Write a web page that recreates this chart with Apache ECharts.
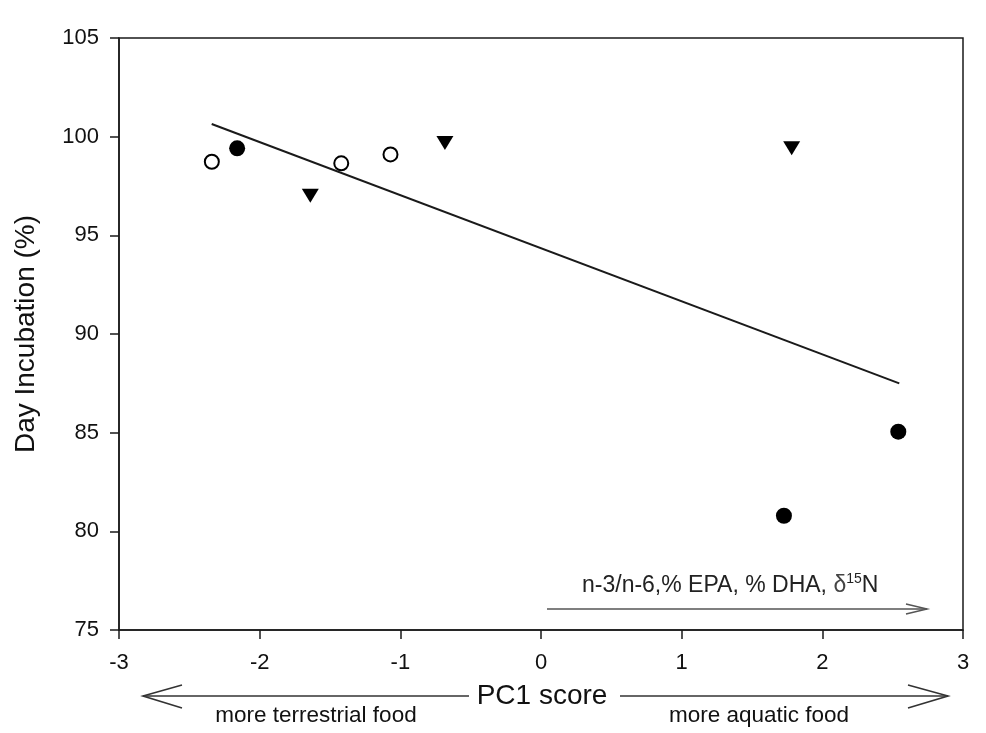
<!DOCTYPE html>
<html>
<head>
<meta charset="utf-8">
<script src="https://cdn.jsdelivr.net/npm/echarts@6/dist/echarts.min.js"></script>
<style>
html,body{margin:0;padding:0;background:#fff;}
#c{width:986px;height:733px;}
</style>
</head>
<body>
<div id="c"></div>
<script>
// Data
var openCircleX = [-2.34, -1.42, -1.07];
var openCircleY = [98.73, 98.65, 99.1];
var filledCircleX = [-2.16, 1.727, 2.54];
var filledCircleY = [99.41, 80.79, 85.05];
var triangleX = [-1.64, -0.683, 1.782];
var triangleY = [97.0, 99.68, 99.41];
var fitX = [-2.341, 2.547];
var fitY = [100.64, 87.50];
var xTicks = [-3, -2, -1, 0, 1, 2, 3];
var yTicks = [75, 80, 85, 90, 95, 100, 105];

function pairs(xs, ys) { return xs.map(function (x, i) { return [x, ys[i]]; }); }

var chart = echarts.init(document.getElementById('c'));
var FONT = 'Liberation Sans, Arial, sans-serif';
var axisCol = '#1a1a1a';

var option = {
  backgroundColor: '#fff',
  animation: false,
  grid: {
    left: 119, right: 23, top: 38, bottom: 103, containLabel: false, outerBoundsMode: 'none',
    show: true, borderColor: axisCol, borderWidth: 1.5, backgroundColor: 'transparent'
  },
  xAxis: {
    type: 'value', min: xTicks[0], max: xTicks[xTicks.length - 1], interval: 1,
    axisLine: { show: true, onZero: false, lineStyle: { color: axisCol, width: 1.5 } },
    axisTick: { show: true, length: 9, lineStyle: { color: axisCol, width: 1.5 } },
    axisLabel: { color: '#111', fontFamily: FONT, fontSize: 22, margin: 22 },
    splitLine: { show: false }
  },
  yAxis: {
    type: 'value', min: yTicks[0], max: yTicks[yTicks.length - 1], interval: 5,
    axisLine: { show: true, onZero: false, lineStyle: { color: axisCol, width: 1.5 } },
    axisTick: { show: true, length: 9, lineStyle: { color: axisCol, width: 1.5 } },
    axisLabel: { color: '#111', fontFamily: FONT, fontSize: 22, margin: 20 },
    splitLine: { show: false },
    name: 'Day Incubation (%)', nameLocation: 'middle', nameGap: 79, nameRotate: 90,
    nameTextStyle: { color: '#111', fontFamily: FONT, fontSize: 28 }
  },
  series: [
    {
      type: 'line', data: pairs(fitX, fitY), symbol: 'none',
      lineStyle: { color: '#1a1a1a', width: 2 }, z: 2
    },
    {
      type: 'scatter', data: pairs(openCircleX, openCircleY), symbol: 'circle', symbolSize: 14,
      itemStyle: { color: '#fff', borderColor: '#000', borderWidth: 2, opacity: 1 }, z: 3
    },
    {
      type: 'scatter', data: pairs(filledCircleX, filledCircleY), symbol: 'circle', symbolSize: 16,
      itemStyle: { color: '#000', opacity: 1 }, z: 3
    },
    {
      type: 'scatter', data: pairs(triangleX, triangleY), symbol: 'triangle', symbolRotate: 180, symbolSize: [17, 14],
      itemStyle: { color: '#000', opacity: 1 }, z: 3
    }
  ],
  graphic: [
    // in-plot annotation arrow
    { type: 'line', shape: { x1: 547, y1: 609, x2: 927, y2: 609 }, style: { stroke: '#555', lineWidth: 1.5 } },
    { type: 'polyline', shape: { points: [[906, 604], [927, 609], [906, 614]] }, style: { stroke: '#555', lineWidth: 1.5, fill: null } },
    {
      type: 'text', left: 582, top: 571,
      style: {
        text: '{a|n-3/n-6,% EPA, % DHA, }{d|δ}{s|15}{a|N}',
        rich: {
          a: { fontFamily: FONT, fontSize: 23, lineHeight: 30, fill: '#222' },
          d: { fontFamily: FONT, fontSize: 23, lineHeight: 30, fill: '#444' },
          s: { fontFamily: FONT, fontSize: 14, lineHeight: 16, fill: '#222', verticalAlign: 'top', padding: [1, 0, 0, 0] }
        }
      }
    },
    // bottom double arrow with PC1 score
    { type: 'line', shape: { x1: 143, y1: 696, x2: 469, y2: 696 }, style: { stroke: '#333', lineWidth: 1.6 } },
    { type: 'line', shape: { x1: 620, y1: 696, x2: 948, y2: 696 }, style: { stroke: '#333', lineWidth: 1.6 } },
    { type: 'polyline', shape: { points: [[182, 685], [143, 696], [182, 708]] }, style: { stroke: '#333', lineWidth: 1.6, fill: null } },
    { type: 'polyline', shape: { points: [[908, 685], [948, 696], [908, 708]] }, style: { stroke: '#333', lineWidth: 1.6, fill: null } },
    {
      type: 'text', x: 542, y: 696,
      style: { text: 'PC1 score', fontFamily: FONT, fontSize: 28, fill: '#111', textAlign: 'center', textVerticalAlign: 'middle' }
    },
    {
      type: 'text', x: 316, y: 716,
      style: { text: 'more terrestrial food', fontFamily: FONT, fontSize: 22.5, fill: '#111', textAlign: 'center', textVerticalAlign: 'middle' }
    },
    {
      type: 'text', x: 759, y: 716,
      style: { text: 'more aquatic food', fontFamily: FONT, fontSize: 22.5, fill: '#111', textAlign: 'center', textVerticalAlign: 'middle' }
    }
  ]
};
chart.setOption(option);
</script>
</body>
</html>
